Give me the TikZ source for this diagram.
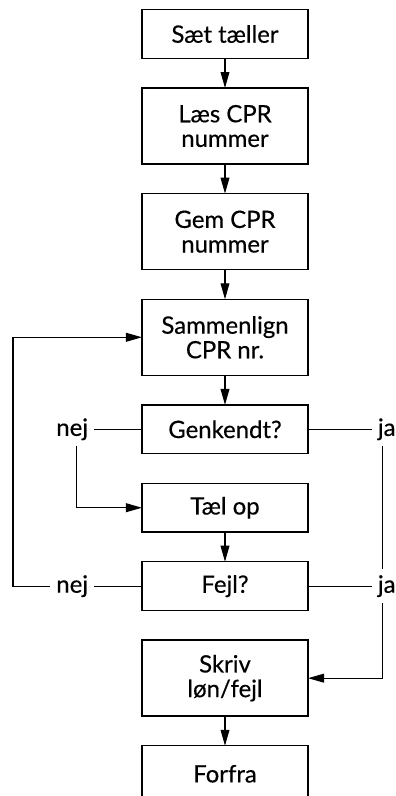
\documentclass[tikz,border=0pt]{standalone}
\usepackage{fontspec}
\setmainfont{Lato}[FakeBold=0.4]
\usepackage{tikz}
\usetikzlibrary{arrows.meta,positioning}
\tikzset{
  boks/.style={
    draw=black,
    line width=1pt,
    align=center,
    minimum width=4.15cm,
    minimum height=1.22cm,
    inner sep=3pt,
    outer sep=0pt,
    font=\fontsize{17}{17.5}\selectfont
  },
  hoj/.style={
    boks,
    minimum height=1.9cm
  },
  svar/.style={
    inner sep=4pt,
    font=\fontsize{17}{17.5}\selectfont
  },
  streg/.style={
    line width=.8pt
  },
  pil/.style={
    -{Triangle[length=4mm,width=2.2mm]},
    line width=.8pt
  }
}

\begin{document}
\begin{tikzpicture}[x=.025cm,y=.025cm,node distance=.74cm]
\useasboundingbox (0,0) rectangle (395,-796);
\node[boks] (a) at (225,-34) {Sæt tæller};
\node[hoj,below=of a] (b) {Læs CPR\\nummer};
\node[hoj,below=of b] (c) {Gem CPR\\nummer};
\node[hoj,below=of c] (d) {Sammenlign\\CPR nr.};
\node[boks,below=of d] (e) {Genkendt?};
\node[boks,below=of e] (f) {Tæl op};
\node[boks,below=of f] (g) {Fejl?};
\node[hoj,below=of g] (h) {Skriv\\løn/fejl};
\node[boks,below=of h,minimum height=1.4cm] (i) {Forfra};
% svar
\node[svar,left=1.2cm of e] (nej1) {nej};
\node[svar,right=1.6cm of e] (ja1) {ja};
\node[svar,left=1.2cm of g] (nej2) {nej};
\node[svar,right=1.6cm of g] (ja2) {ja};
\coordinate (venstre) at (13,0);
% hovedgang
\draw[pil] (a) -- (b);
\draw[pil] (b) -- (c);
\draw[pil] (c) -- (d);
\draw[pil] (d) -- (e);
\draw[pil] (f) -- (g);
\draw[pil] (h) -- (i);
% nej-grene
\draw[streg] (e.west) -- (nej1.east);
\draw[pil] ([xshift=1mm]nej1.south) |- (f.west);
\draw[streg] (g.west) -- (nej2.east);
\draw[pil] (nej2.west) -- (nej2.west -| venstre) |- (d.west);
% ja-grene
\draw[streg] (e.east) -- (ja1.west);
\draw[streg] ([xshift=-1mm]ja1.south) -- ([xshift=-1mm]ja2.north);
\draw[streg] (g.east) -- (ja2.west);
\draw[pil] ([xshift=-1mm]ja2.south) |- (h.east);
\end{tikzpicture}
\end{document}
